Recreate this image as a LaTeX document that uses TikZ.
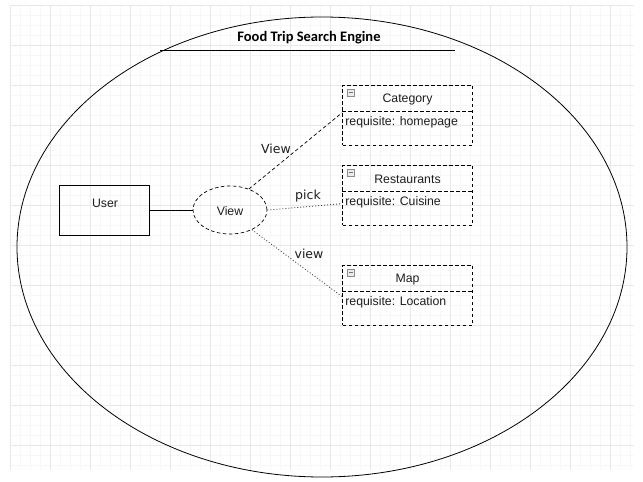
\documentclass[tikz,border=0pt]{standalone}
\usepackage{fontspec}
\setmainfont{Liberation Sans}
\newfontfamily\titlefont{Carlito}
\newfontfamily\labelfont{DejaVu Sans}
\usetikzlibrary{shapes.geometric,calc}
\definecolor{gridminor}{RGB}{247,247,247}
\definecolor{gridmajor}{RGB}{232,232,232}
\definecolor{txt}{RGB}{30,30,30}
\tikzset{
  dsh/.style={line width=0.7pt, dash pattern=on 3.5pt off 2.5pt},
  dtt/.style={line width=0.8pt, dash pattern=on 1pt off 2pt, black!75},
  boxtxt/.style={font=\fontsize{12.3}{14}\selectfont, text=txt, inner sep=0pt},
  lbl/.style={font=\labelfont\fontsize{12.5}{14}\selectfont, text=txt, inner sep=0pt},
  classbox/.style={draw, dsh, minimum width=130pt, minimum height=60pt, inner sep=0pt},
  minusicon/.style={draw=black!45, fill=black!8, line width=0.5pt, minimum width=7pt, minimum height=7pt, inner sep=0pt}
}
\begin{document}
\begin{tikzpicture}[x=1pt,y=-1pt]
\useasboundingbox (0,0) rectangle (643,482);
\fill[white] (0,0) rectangle (643,482);
% grid
\foreach \gx in {10,20,...,630} \draw[gridminor, line width=0.6pt] (\gx,5) -- (\gx,470);
\foreach \gy in {5,15,...,465} \draw[gridminor, line width=0.6pt] (10,\gy) -- (634,\gy);
\foreach \gx in {10,50,...,630} \draw[gridmajor, line width=0.7pt] (\gx,5) -- (\gx,470);
\foreach \gy in {5,45,...,465} \draw[gridmajor, line width=0.7pt] (10,\gy) -- (634,\gy);
% system boundary
\node[draw, ellipse, line width=0.8pt, minimum width=610pt, minimum height=460pt, inner sep=0pt] (sys) at (322,247) {};
\coordinate (tl) at (160,50);
\coordinate (tr) at (455,50);
\draw[line width=0.8pt] (tl) -- (tr);
\node[font=\titlefont\bfseries\fontsize{14.5}{16}\selectfont, inner sep=0pt] (title) at (309,38) {Food Trip Search Engine};
% user
\node[draw, line width=0.8pt, minimum width=90pt, minimum height=50pt, inner sep=0pt] (user) at (104,210) {};
\node[boxtxt] (usertxt) at (105,203) {User};
% view use case
\node[draw, ellipse, dsh, minimum width=74pt, minimum height=48pt, inner sep=0pt] (view) at (230,210) {};
\node[boxtxt] (viewtxt) at (230,211) {View};
\draw[line width=0.8pt] (user.east) -- (view.west);
% class boxes
\foreach \nm/\cy/\ttl/\req in {cat/115/Category/{requisite: homepage}, rest/195/Restaurants/{requisite: Cuisine}, map/295/Map/{requisite: Location}}{
  \node[classbox] (\nm) at (407.5,\cy) {};
  \coordinate (\nm dl) at ($(\nm.north west)+(0,27)$);
  \coordinate (\nm dr) at ($(\nm.north east)+(0,27)$);
  \draw[dsh] (\nm dl) -- (\nm dr);
  \node[boxtxt] (\nm t) at ($(\nm.north)+(0,15)$) {\ttl};
  \node[boxtxt, anchor=west] (\nm r) at ($(\nm dl)+(3,11)$) {\req};
  \node[minusicon] (\nm i) at ($(\nm.north west)+(9,8)$) {};
  \draw[black!55, line width=0.6pt] ($(\nm i.west)+(1.5,0)$) -- ($(\nm i.east)+(-1.5,0)$);
}
% connectors
\coordinate (ecat) at ($(cat.north west)+(0,28)$);
\coordinate (erest) at ($(rest.north west)+(0,39)$);
\coordinate (emap) at ($(map.north west)+(0,32)$);
\draw[dsh] (view.48) -- (ecat);
\draw[dtt] (view.east) -- (erest);
\draw[dtt] (view.-42) -- (emap);
\node[lbl] (l1) at (276,149) {View};
\node[lbl] (l2) at (308,196) {pick};
\node[lbl] (l3) at (309,254) {view};
\end{tikzpicture}
\end{document}
